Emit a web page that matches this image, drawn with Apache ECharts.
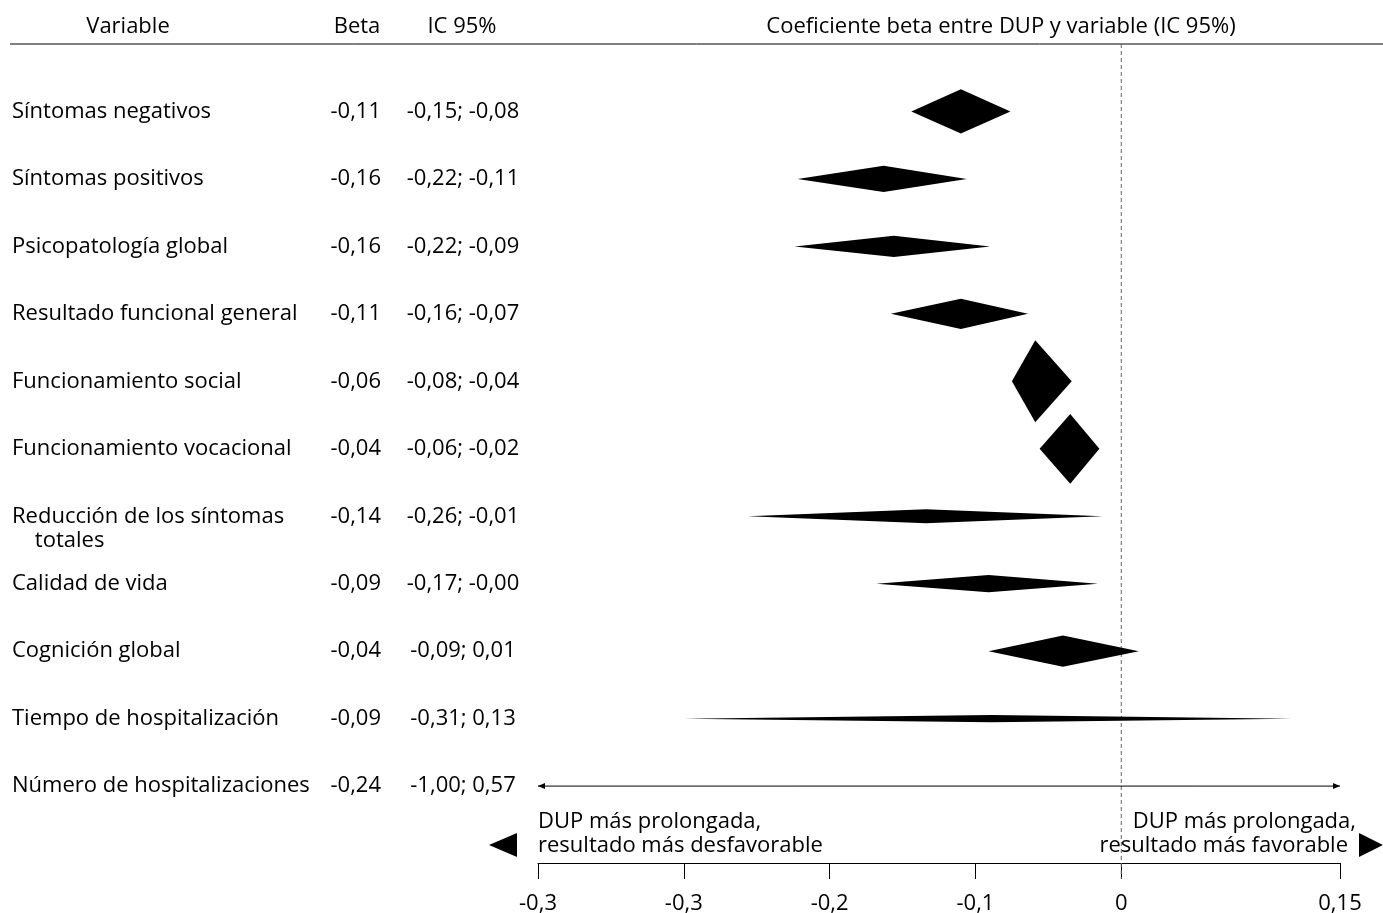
<!DOCTYPE html>
<html>
<head>
<meta charset="utf-8">
<script src="https://cdn.jsdelivr.net/npm/echarts@6/dist/echarts.min.js"></script>
<style>
  html, body { margin: 0; padding: 0; background: #fff; }
  #main { width: 1383px; height: 913px; }
</style>
</head>
<body>
<div id="main"></div>
<script>
// rows, top to bottom
const variables = [
  'Síntomas negativos',
  'Síntomas positivos',
  'Psicopatología global',
  'Resultado funcional general',
  'Funcionamiento social',
  'Funcionamiento vocacional',
  'Reducción de los síntomas\n    totales',
  'Calidad de vida',
  'Cognición global',
  'Tiempo de hospitalización',
  'Número de hospitalizaciones'
];
const betaText = ['-0,11', '-0,16', '-0,16', '-0,11', '-0,06', '-0,04', '-0,14', '-0,09', '-0,04', '-0,09', '-0,24'];
const ciText = ['-0,15; -0,08', '-0,22; -0,11', '-0,22; -0,09', '-0,16; -0,07', '-0,08; -0,04', '-0,06; -0,02',
  '-0,26; -0,01', '-0,17; -0,00', '-0,09; 0,01', '-0,31; 0,13', '-1,00; 0,57'];

// diamond points as drawn in the figure
const beta = [-0.110, -0.163, -0.156, -0.110, -0.059, -0.035, -0.134, -0.091, -0.040, -0.089, -0.24];
const ciLow = [-0.144, -0.222, -0.224, -0.158, -0.075, -0.056, -0.256, -0.168, -0.091, -0.300, -1.00];
const ciHigh = [-0.076, -0.106, -0.090, -0.064, -0.034, -0.015, -0.013, -0.016, 0.012, 0.117, 0.57];
// relative weight (diamond height)
const weights = [0.54, 0.32, 0.26, 0.37, 1.0, 0.85, 0.17, 0.21, 0.38, 0.09, 0];

const tickValues = [-0.4, -0.3, -0.2, -0.1, 0, 0.15];
const tickLabels = ['-0,3', '-0,3', '-0,2', '-0,1', '0', '0,15'];

const FONT = '"Open Sans", Lato, sans-serif';
const FS = 22;
const MAX_H = 82;

const chart = echarts.init(document.getElementById('main'), null, { renderer: 'canvas' });

const rows = variables.map((v, i) => [i, ciLow[i], beta[i], ciHigh[i], weights[i]]);

function renderDiamond(params, api) {
  const i = api.value(0);
  const lo = api.value(1), mid = api.value(2), hi = api.value(3), w = api.value(4);
  const cs = params.coordSys;
  const xMin = cs.x, xMax = cs.x + cs.width;
  const y = api.coord([0, i])[1];
  let xl = api.coord([lo, i])[0], xm = api.coord([mid, i])[0], xh = api.coord([hi, i])[0];
  if (xl < xMin || xh > xMax) {
    // interval runs off the axis: plain line with arrow heads
    xl = Math.max(xl, xMin);
    xh = Math.min(xh, xMax);
    return {
      type: 'group',
      children: [
        { type: 'line', shape: { x1: xl, y1: y, x2: xh, y2: y }, style: { stroke: '#000', lineWidth: 1 } },
        { type: 'polygon', shape: { points: [[xl, y], [xl + 7, y - 3], [xl + 7, y + 3]] }, style: { fill: '#000' } },
        { type: 'polygon', shape: { points: [[xh, y], [xh - 7, y - 3], [xh - 7, y + 3]] }, style: { fill: '#000' } }
      ]
    };
  }
  const h = w * MAX_H / 2;
  return {
    type: 'polygon',
    shape: { points: [[xl, y], [xm, y - h], [xh, y], [xm, y + h]] },
    style: { fill: '#000' }
  };
}

function renderText(params, api) {
  const i = api.value(0);
  const y = api.coord([0, i])[1];
  const base = { fill: '#000', fontSize: FS, fontFamily: FONT, lineHeight: 24 };
  return {
    type: 'group',
    children: [
      { type: 'text', style: Object.assign({ text: variables[i], x: 12, y: y - 12, textAlign: 'left', textVerticalAlign: 'top' }, base) },
      { type: 'text', style: Object.assign({ text: betaText[i], x: 381, y: y, textAlign: 'right', textVerticalAlign: 'middle' }, base) },
      { type: 'text', style: Object.assign({ text: ciText[i], x: 463, y: y, textAlign: 'center', textVerticalAlign: 'middle' }, base) }
    ]
  };
}

function renderZero(params, api) {
  const x = api.coord([0, 0])[0];
  return {
    type: 'line',
    shape: { x1: x, y1: 44, x2: x, y2: 879 },
    style: { stroke: '#666', lineWidth: 1, lineDash: [4, 3] }
  };
}

const headStyle = { fill: '#000', font: FS + 'px ' + FONT, textVerticalAlign: 'middle' };

const option = {
  backgroundColor: '#fff',
  animation: false,
  grid: { left: 538, right: 43, top: 44, bottom: 50, outerBoundsMode: 'none', containLabel: false },
  xAxis: {
    type: 'value',
    min: -0.4,
    max: 0.15,
    axisLine: { show: true, onZero: false, lineStyle: { color: '#000', width: 1 } },
    axisTick: { show: true, length: 16, lineStyle: { color: '#000' }, customValues: tickValues },
    axisLabel: {
      customValues: tickValues,
      margin: 30,
      color: '#000',
      fontSize: FS,
      fontFamily: FONT,
      formatter: v => tickLabels[tickValues.findIndex(t => Math.abs(t - v) < 1e-9)]
    },
    splitLine: { show: false }
  },
  yAxis: { type: 'value', min: -1, max: 11.14, inverse: true, show: false },
  graphic: [
    { type: 'line', shape: { x1: 10, y1: 44, x2: 1383, y2: 44 }, style: { stroke: '#000', lineWidth: 1 } },
    { type: 'text', x: 128, y: 27, style: Object.assign({ text: 'Variable', textAlign: 'center' }, headStyle) },
    { type: 'text', x: 357, y: 27, style: Object.assign({ text: 'Beta', textAlign: 'center' }, headStyle) },
    { type: 'text', x: 462, y: 27, style: Object.assign({ text: 'IC 95%', textAlign: 'center' }, headStyle) },
    { type: 'text', x: 1001, y: 27, style: Object.assign({ text: 'Coeficiente beta entre DUP y variable (IC 95%)', textAlign: 'center' }, headStyle) },
    { type: 'text', x: 538, y: 822, style: Object.assign({ text: 'DUP más prolongada,', textAlign: 'left' }, headStyle) },
    { type: 'text', x: 538, y: 846, style: Object.assign({ text: 'resultado más desfavorable', textAlign: 'left' }, headStyle) },
    { type: 'text', x: 1356, y: 822, style: Object.assign({ text: 'DUP más prolongada,', textAlign: 'right' }, headStyle) },
    { type: 'text', x: 1348, y: 846, style: Object.assign({ text: 'resultado más favorable', textAlign: 'right' }, headStyle) },
    { type: 'polygon', shape: { points: [[489, 845], [517, 833], [517, 857]] }, style: { fill: '#000' } },
    { type: 'polygon', shape: { points: [[1383, 845], [1359, 833], [1359, 857]] }, style: { fill: '#000' } }
  ],
  series: [
    { type: 'custom', name: 'cero', data: [[0]], renderItem: renderZero, z: 1, silent: true },
    { type: 'custom', name: 'beta', data: rows, renderItem: renderDiamond, z: 2, encode: { x: [1, 2, 3], y: 0 } },
    { type: 'custom', name: 'texto', data: rows.map(r => [r[0]]), renderItem: renderText, z: 3, silent: true, encode: { y: 0 } }
  ]
};

chart.setOption(option);
</script>
</body>
</html>
